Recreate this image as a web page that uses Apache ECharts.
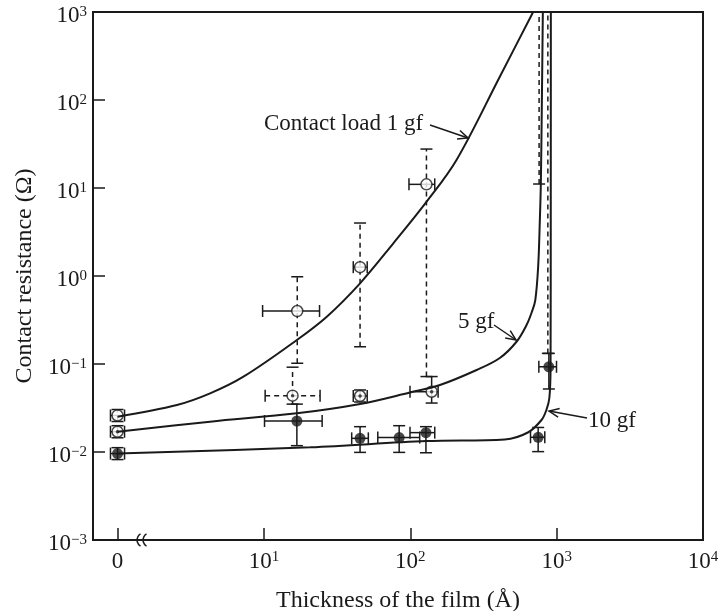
<!DOCTYPE html>
<html>
<head>
<meta charset="utf-8">
<script src="https://cdn.jsdelivr.net/npm/echarts@6/dist/echarts.min.js"></script>
<style>
html, body { margin: 0; padding: 0; background: #fff; }
#chart { width: 719px; height: 611px; }
</style>
</head>
<body>
<div id="chart"></div>
<script>
// x = 1 stands for a film thickness of 0 (axis is broken after it)
var xMin = 0.68, xMax = 10000;
var yMin = 0.001, yMax = 1000;

// measured points: [thickness, resistance, xLow, xHigh, yLow, yHigh]
var load1 = [
    [1, 0.026, 0.895, 1.117, 0.0222, 0.0304],
    [16.9, 0.40, 9.8, 24, 0.102, 0.98],
    [45.4, 1.26, 40.8, 50.8, 0.157, 4.0],
    [129, 11.0, 98, 147, 0.072, 27.7]
];
var load5 = [
    [1, 0.017, 0.895, 1.117, 0.0145, 0.0199],
    [45.4, 0.0433, 40.8, 50.8, 0.037, 0.0507],
    [140, 0.0484, 99.6, 155, 0.036, 0.072]
];
var load5Dashed = [
    [15.7, 0.0437, 10.2, 24.2, 0.035, 0.092]
];
var load10 = [
    [1, 0.0096, 0.895, 1.117, 0.0082, 0.0112],
    [16.8, 0.0225, 10.1, 25, 0.0118, 0.035],
    [45.4, 0.0143, 39.8, 51.7, 0.0099, 0.0194],
    [84, 0.0146, 60, 116, 0.0099, 0.0199],
    [128, 0.0166, 99.6, 147, 0.0098, 0.0194],
    [748, 0.0147, 663, 830, 0.0101, 0.019],
    [885, 0.093, 756, 998, 0.052, 0.132]
];
// error bars running off the top: [thickness, lower end]
var offTop = [[759, 11.1], [871, 0.132]];

// curves
var curve1 = [[1, 0.0252], [2.545, 0.0342], [4.29, 0.0464], [7.25, 0.0718], [16.8, 0.1875], [26.9, 0.345],
    [45.4, 0.826], [76.6, 2.35], [129.4, 6.99], [207, 20.8], [409, 184], [691, 1000]];
var curve5 = [[1, 0.017], [4.29, 0.0221], [16.8, 0.0275], [45.4, 0.0351], [99.5, 0.0474], [159.5, 0.0577],
    [284, 0.0855], [409, 0.117], [532, 0.179], [623, 0.277], [677, 0.39], [715, 0.533], [748, 1.28],
    [768, 4.33], [780, 11.1], [793, 100], [805, 1000]];
var curve10 = [[1, 0.0096], [20.7, 0.0113], [129, 0.0133], [443, 0.0139], [636, 0.01666], [788, 0.0231],
    [851, 0.030], [892, 0.0411], [909, 0.093], [912, 7.31], [913, 1000]];

var serif = '"Liberation Serif", "DejaVu Serif", serif';
var ink = '#1a1a1a';

function pow10Label(v) {
    var e = Math.round(Math.log10(v));
    return '{b|10}{s|' + (e < 0 ? '\u2212' + (-e) : e) + '}';
}

function lineStyle(dash) {
    var s = { stroke: ink, lineWidth: 1.5 };
    if (dash) s.lineDash = [5, 4];
    return s;
}

function errorBars(dashV, dashH) {
    return function (params, api) {
        var x = api.value(0), y = api.value(1);
        var c = api.coord([x, y]);
        var l = api.coord([api.value(2), y]);
        var r = api.coord([api.value(3), y]);
        var lo = api.coord([x, api.value(4)]);
        var hi = api.coord([x, api.value(5)]);
        var cap = 6;
        return {
            type: 'group',
            children: [
                { type: 'line', shape: { x1: c[0], y1: lo[1], x2: c[0], y2: hi[1] }, style: lineStyle(dashV) },
                { type: 'line', shape: { x1: l[0], y1: c[1], x2: r[0], y2: c[1] }, style: lineStyle(dashH) },
                { type: 'line', shape: { x1: c[0] - cap, y1: lo[1], x2: c[0] + cap, y2: lo[1] }, style: lineStyle(false) },
                { type: 'line', shape: { x1: c[0] - cap, y1: hi[1], x2: c[0] + cap, y2: hi[1] }, style: lineStyle(false) },
                { type: 'line', shape: { x1: l[0], y1: c[1] - cap, x2: l[0], y2: c[1] + cap }, style: lineStyle(false) },
                { type: 'line', shape: { x1: r[0], y1: c[1] - cap, x2: r[0], y2: c[1] + cap }, style: lineStyle(false) }
            ]
        };
    };
}

function offTopBar(params, api) {
    var lo = api.coord([api.value(0), api.value(1)]);
    var hi = api.coord([api.value(0), yMax]);
    return {
        type: 'group',
        children: [
            { type: 'line', shape: { x1: lo[0], y1: lo[1], x2: hi[0], y2: hi[1] }, style: lineStyle(true) },
            { type: 'line', shape: { x1: lo[0] - 6, y1: lo[1], x2: lo[0] + 6, y2: lo[1] }, style: lineStyle(false) }
        ]
    };
}

function xy(d) { return [d[0], d[1]]; }

function arrow(x1, y1, x2, y2) {
    var a = Math.atan2(y2 - y1, x2 - x1), h = 11, w = 0.42;
    return [
        { type: 'line', shape: { x1: x1, y1: y1, x2: x2, y2: y2 }, style: { stroke: ink, lineWidth: 1.5 } },
        { type: 'polyline', shape: { points: [
            [x2 - h * Math.cos(a - w), y2 - h * Math.sin(a - w)], [x2, y2],
            [x2 - h * Math.cos(a + w), y2 - h * Math.sin(a + w)] ] },
          style: { stroke: ink, fill: null, lineWidth: 1.5 } }
    ];
}

function note(text, x, y) {
    return { type: 'text', style: { x: x, y: y, text: text, fill: ink, fontSize: 23,
        fontFamily: serif, verticalAlign: 'middle' } };
}

var richLabel = {
    b: { fontSize: 23, lineHeight: 23, fontFamily: serif, color: ink },
    s: { fontSize: 15, lineHeight: 15, fontFamily: serif, color: ink, verticalAlign: 'top' }
};

var curveStyle = { color: ink, width: 2 };

var chart = echarts.init(document.getElementById('chart'));
var option = {
    backgroundColor: '#fff',
    animation: false,
    grid: { left: 93, right: 16, top: 12, bottom: 71, show: true, borderColor: ink, borderWidth: 2,
        outerBoundsMode: 'none', containLabel: false },
    xAxis: {
        type: 'log',
        min: xMin,
        max: xMax,
        name: 'Thickness of the film (\u00c5)',
        nameLocation: 'middle',
        nameGap: 49,
        nameTextStyle: { fontSize: 24, fontFamily: serif, color: ink },
        axisLine: { lineStyle: { color: ink, width: 2 } },
        axisTick: { inside: true, length: 12, lineStyle: { color: ink, width: 1.5 } },
        splitLine: { show: false },
        axisLabel: {
            margin: 10,
            rich: richLabel,
            formatter: function (v) {
                if (v < 0.9) return '';
                if (Math.abs(v - 1) < 1e-6) return '{b|0}';
                return pow10Label(v);
            }
        }
    },
    yAxis: {
        type: 'log',
        min: yMin,
        max: yMax,
        name: 'Contact resistance (\u03a9)',
        nameLocation: 'middle',
        nameGap: 56,
        nameTextStyle: { fontSize: 24, fontFamily: serif, color: ink },
        axisLine: { lineStyle: { color: ink, width: 2 } },
        axisTick: { inside: true, length: 12, lineStyle: { color: ink, width: 1.5 } },
        splitLine: { show: false },
        axisLabel: {
            margin: 6,
            padding: [8, 0, 0, 0],
            showMinLabel: true,
            showMaxLabel: true,
            rich: richLabel,
            formatter: pow10Label
        }
    },
    series: [
        { type: 'line', data: curve1, smooth: 0.35, showSymbol: false, lineStyle: curveStyle },
        { type: 'line', data: curve5, smooth: 0.35, showSymbol: false, lineStyle: curveStyle },
        { type: 'line', data: curve10, smooth: 0.35, showSymbol: false, lineStyle: curveStyle },
        { type: 'custom', data: load1, renderItem: errorBars(true, false), encode: { x: 0, y: 1 } },
        { type: 'custom', data: load5, renderItem: errorBars(false, false), encode: { x: 0, y: 1 } },
        { type: 'custom', data: load5Dashed, renderItem: errorBars(true, true), encode: { x: 0, y: 1 } },
        { type: 'custom', data: load10, renderItem: errorBars(false, false), encode: { x: 0, y: 1 } },
        { type: 'custom', data: offTop, renderItem: offTopBar, encode: { x: 0, y: 1 } },
        { type: 'scatter', data: load1.map(xy), symbol: 'circle', symbolSize: 11,
          itemStyle: { color: '#fff', borderColor: ink, borderWidth: 1.5 } },
        { type: 'scatter', data: load5.concat(load5Dashed).map(xy), symbol: 'circle', symbolSize: 11,
          itemStyle: { color: '#fff', borderColor: ink, borderWidth: 1.5 } },
        { type: 'scatter', data: load5.concat(load5Dashed).map(xy), symbol: 'circle', symbolSize: 3.5,
          itemStyle: { color: ink } },
        { type: 'scatter', data: load10.map(xy), symbol: 'circle', symbolSize: 11,
          itemStyle: { color: ink } }
    ],
    graphic: [
        // axis break mark
        { type: 'arc', shape: { cx: 144, cy: 540, r: 7, startAngle: Math.PI * 2 / 3, endAngle: Math.PI * 4 / 3 },
          style: { stroke: ink, fill: null, lineWidth: 1.5 } },
        { type: 'arc', shape: { cx: 150, cy: 540, r: 7, startAngle: Math.PI * 2 / 3, endAngle: Math.PI * 4 / 3 },
          style: { stroke: ink, fill: null, lineWidth: 1.5 } },
        note('Contact load 1 gf', 264, 124),
        note('5 gf', 458, 322),
        note('10 gf', 588, 421)
    ].concat(arrow(430, 125, 468, 138), arrow(494, 325, 516, 340), arrow(587, 418, 549, 411))
};
chart.setOption(option);
</script>
</body>
</html>
